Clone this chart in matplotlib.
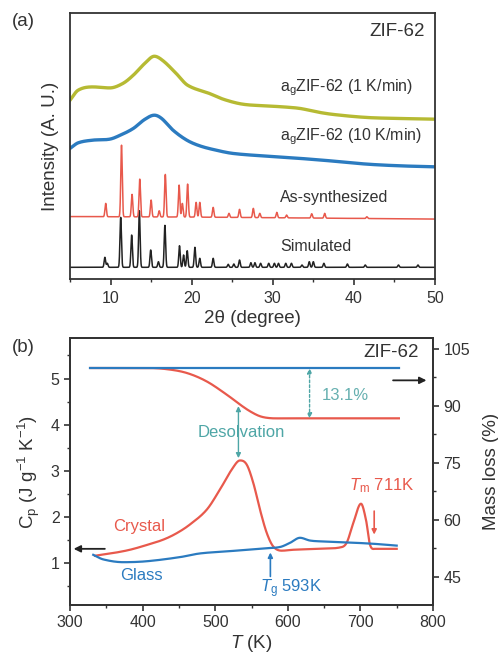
import numpy as np
import matplotlib
matplotlib.use("Agg")
import matplotlib.pyplot as plt
from matplotlib.ticker import MultipleLocator

plt.rcParams['font.family'] = ['Liberation Sans', 'DejaVu Sans']
plt.rcParams['mathtext.fontset'] = 'custom'
plt.rcParams['mathtext.rm'] = 'Liberation Sans'
plt.rcParams['mathtext.it'] = 'Liberation Sans:italic'
plt.rcParams['mathtext.bf'] = 'Liberation Sans:bold'

# ---------------- Panel (a): XRD data ----------------
# simulated pattern (peaks on baseline)
sim_base = 11.7
sim_pos = [9.3, 9.6, 11.25, 12.6, 13.55, 14.95, 15.9, 16.7, 18.5, 19.0, 19.45, 20.4,
           21.0, 22.65, 24.5, 25.2, 25.9, 27.3, 27.8, 28.5, 29.5, 30.2, 30.7, 31.6,
           32.3, 33.6, 34.5, 35.0, 36.3, 39.2, 41.4, 45.5, 47.9]
sim_int = [21.7, 15.7, 61.7, 44.0, 68.3, 29.0, 17.3, 53.7, 33.3, 24.0, 28.3, 31.7,
           20.7, 20.7, 14.7, 15.0, 19.0, 16.3, 16.3, 15.7, 15.7, 15.7, 15.7, 15.7,
           15.7, 14.0, 17.3, 17.3, 15.7, 15.0, 14.0, 14.0, 14.0]

# as-synthesized pattern
as_base_x = [5, 20, 35, 50]
as_base_y = [62.5, 62.0, 61.0, 60.0]
as_pos = [9.4, 11.35, 12.65, 13.6, 15.0, 16.0, 16.75, 18.45, 18.85, 19.5, 20.55,
          21.0, 22.65, 24.6, 25.9, 27.6, 28.4, 30.5, 31.7, 34.8, 36.4, 41.6]
as_int = [75.7, 134.0, 84.7, 100.0, 79.0, 68.3, 104.7, 94.0, 75.7, 95.0, 76.7,
          76.7, 71.7, 65.7, 69.7, 70.7, 65.7, 66.7, 64.0, 65.3, 65.7, 62.3]

# agZIF-62 (10 K/min)
g10_x = [5, 6.0, 7.8, 9.9, 11.2, 12.8, 14.2, 15.4, 16.3, 17.7, 19.4, 21, 23, 25.1,
         29.2, 33.4, 37.5, 41.6, 45.7, 50]
g10_y = [130.7, 136.3, 139.0, 140.0, 144.0, 150.7, 159.7, 164.0, 160.7, 149.0, 139.0,
         133.3, 129.0, 125.7, 123.0, 120.7, 118.0, 115.0, 113.3, 112.3]

# agZIF-62 (1 K/min)
g1_x = [5, 6, 7.8, 9.9, 11.5, 12.8, 14.2, 15.4, 16.5, 18.1, 19.5, 22.2, 24.0, 26.3,
        29.2, 31.3, 33.4, 35.4, 37.5, 41.6, 45.7, 50]
g1_y = [179.0, 189.0, 192.3, 191.3, 195.7, 204.0, 215.7, 223.0, 218.3, 205.7, 194.0,
        185.7, 179.7, 175.0, 173.3, 172.3, 170.7, 167.3, 164.7, 161.7, 160.7, 160.0]

# ---------------- Panel (b): DSC / TGA data ----------------
cry_T = [334.4, 360, 382.6, 405, 428.5, 447, 465.3, 488.3, 506.6, 522.7, 534.2, 543.4,
         552.5, 561.7, 570.9, 580, 591.6, 607.6, 640, 671.9, 681, 690.2, 700.8, 707.7,
         713.2, 720, 750]
cry_Cp = [1.15, 1.21, 1.28, 1.38, 1.50, 1.64, 1.83, 2.15, 2.59, 3.02, 3.22, 3.13,
          2.73, 2.15, 1.65, 1.35, 1.26, 1.28, 1.30, 1.33, 1.43, 1.86, 2.28, 1.93,
          1.39, 1.30, 1.30]

gla_T = [332, 345.9, 373.4, 405.5, 451.5, 479, 520.4, 566.3, 589.3, 603, 616.8,
         630.6, 648.9, 681, 717.8, 750]
gla_Cp = [1.17, 1.07, 1.01, 1.03, 1.12, 1.20, 1.25, 1.31, 1.34, 1.43, 1.54,
          1.48, 1.46, 1.44, 1.41, 1.37]

mass_T = [328, 405.6, 433, 460.7, 488, 515.8, 534, 548, 561.7, 575.5, 594, 753]
mass_cry = [100.0, 100.0, 99.7, 98.7, 96.5, 93.0, 90.4, 88.6, 87.3, 86.8, 86.75, 86.75]
mass_gla_T = [328, 753]
mass_gla = [99.9, 99.9]

RED = '#e8594c'
BLUE = '#2b7bc0'
YEL = '#b6ba33'
TEAL = '#4ea6a6'
DARK = '#333333'


def smooth_curve(x, y, per_seg=40):
    """Cubic Hermite (Catmull-Rom-like) curve through the read points."""
    x = np.asarray(x, float)
    y = np.asarray(y, float)
    n = len(x)
    m = np.zeros(n)
    m[0] = (y[1] - y[0]) / (x[1] - x[0])
    m[-1] = (y[-1] - y[-2]) / (x[-1] - x[-2])
    for i in range(1, n - 1):
        d0 = (y[i] - y[i - 1]) / (x[i] - x[i - 1])
        d1 = (y[i + 1] - y[i]) / (x[i + 1] - x[i])
        if d0 * d1 <= 0:
            m[i] = 0.0
        else:
            m[i] = (y[i + 1] - y[i - 1]) / (x[i + 1] - x[i - 1])
    xs, ys = [], []
    for i in range(n - 1):
        h = x[i + 1] - x[i]
        t = np.linspace(0, 1, per_seg, endpoint=False)
        h00 = 2 * t**3 - 3 * t**2 + 1
        h10 = t**3 - 2 * t**2 + t
        h01 = -2 * t**3 + 3 * t**2
        h11 = t**3 - t**2
        xs.append(x[i] + t * h)
        ys.append(h00 * y[i] + h10 * h * m[i] + h01 * y[i + 1] + h11 * h * m[i + 1])
    xs.append([x[-1]])
    ys.append([y[-1]])
    return np.concatenate(xs), np.concatenate(ys)


def pattern(pos, inten, base_x, base_y, sigma=0.09):
    xd = np.linspace(5, 50, 6000)
    base = np.interp(xd, base_x, base_y)
    y = base.copy()
    for p, h in zip(pos, inten):
        b = np.interp(p, base_x, base_y)
        y += (h - b) * np.exp(-0.5 * ((xd - p) / sigma) ** 2)
    return xd, y


fig = plt.figure(figsize=(4.98, 6.58), dpi=100)

# ---------------- Panel (a) ----------------
axa = fig.add_axes([70 / 498, 1 - 279 / 658, 365 / 498, 266 / 658])
xs, ys = pattern(sim_pos, sim_int, [5, 50], [sim_base, sim_base])
axa.plot(xs, ys, color='#222222', lw=1.1)
xs, ys = pattern(as_pos, as_int, as_base_x, as_base_y)
axa.plot(xs, ys, color=RED, lw=1.1)
xs, ys = smooth_curve(g10_x, g10_y)
axa.plot(xs, ys, color=BLUE, lw=2.4)
xs, ys = smooth_curve(g1_x, g1_y)
axa.plot(xs, ys, color=YEL, lw=2.4)

axa.set_xlim(5, 50)
axa.set_ylim(0, 266.3)
axa.set_yticks([])
axa.xaxis.set_major_locator(MultipleLocator(10))
axa.xaxis.set_minor_locator(MultipleLocator(5))
axa.tick_params(axis='x', which='major', direction='out', length=4.5, width=1.2,
                labelsize=11.5, colors=DARK, pad=4)
axa.tick_params(axis='x', which='minor', direction='out', length=2.5, width=1.0, colors=DARK)
axa.set_xlabel('2θ (degree)', fontsize=13.5, color=DARK, labelpad=3)
axa.set_ylabel('Intensity (A. U.)', fontsize=13.5, color=DARK, labelpad=8)
for s in axa.spines.values():
    s.set_color(DARK)
    s.set_linewidth(1.3)

lab_kw = dict(fontsize=11.5, color=DARK, va='center', ha='left')
axa.text(30.9, 191.7, 'a$_\\mathregular{g}$ZIF-62 (1 K/min)', **lab_kw)
axa.text(30.9, 142.3, 'a$_\\mathregular{g}$ZIF-62 (10 K/min)', **lab_kw)
axa.text(30.9, 81.3, 'As-synthesized', **lab_kw)
axa.text(30.9, 32.3, 'Simulated', **lab_kw)
axa.text(48.8, 247.3, 'ZIF-62', fontsize=13.5, color=DARK, ha='right', va='center')
fig.text(12 / 498, 1 - 22 / 658, '(a)', fontsize=13.5, color=DARK, ha='left', va='center')

# ---------------- Panel (b) ----------------
axb = fig.add_axes([70 / 498, 1 - 605 / 658, 363 / 498, 267 / 658])
ax2 = axb.twinx()

xs, ys = smooth_curve(cry_T, cry_Cp)
axb.plot(xs, ys, color=RED, lw=1.6)
xs, ys = smooth_curve(gla_T, gla_Cp)
axb.plot(xs, ys, color=BLUE, lw=1.6)

xs, ys = smooth_curve(mass_T, mass_cry)
ax2.plot(xs, ys, color=RED, lw=1.6)
ax2.plot(mass_gla_T, mass_gla, color=BLUE, lw=1.6)

axb.set_xlim(300, 800)
axb.set_ylim(0.08, 5.88)
ax2.set_ylim(37.6, 107.9)

axb.xaxis.set_major_locator(MultipleLocator(100))
axb.xaxis.set_minor_locator(MultipleLocator(50))
axb.yaxis.set_major_locator(MultipleLocator(1))
axb.yaxis.set_minor_locator(MultipleLocator(0.5))
ax2.yaxis.set_major_locator(MultipleLocator(15))
ax2.yaxis.set_minor_locator(MultipleLocator(7.5))
for a in (axb, ax2):
    a.tick_params(which='major', direction='out', length=4.5, width=1.2,
                  labelsize=11.5, colors=DARK, pad=3)
    a.tick_params(which='minor', direction='out', length=2.5, width=1.0, colors=DARK)
    for s in a.spines.values():
        s.set_color(DARK)
        s.set_linewidth(1.3)

axb.set_xlabel('$T$ (K)', fontsize=13.5, color=DARK, labelpad=2)
axb.set_ylabel('C$_\\mathregular{p}$ (J g$^\\mathregular{-1}$ K$^\\mathregular{-1}$)',
               fontsize=13.5, color=DARK, labelpad=6)
ax2.set_ylabel('Mass loss (%)', fontsize=13.5, color=DARK, labelpad=9)

# arrows indicating axes
axb.annotate('', xy=(305, 1.30), xytext=(348, 1.30),
             arrowprops=dict(arrowstyle='-|>', color='#222222', lw=1.3,
                             mutation_scale=10, shrinkA=0, shrinkB=0))
axb.annotate('', xy=(791, 4.96), xytext=(745, 4.96),
             arrowprops=dict(arrowstyle='-|>', color='#222222', lw=1.3,
                             mutation_scale=10, shrinkA=0, shrinkB=0))

# Desolvation arrow
axb.annotate('', xy=(532, 4.40), xytext=(532, 3.27),
             arrowprops=dict(arrowstyle='<|-|>', color=TEAL, lw=1.0,
                             mutation_scale=7, shrinkA=0, shrinkB=0))
axb.text(536.5, 3.83, 'Desolvation', fontsize=12, color=TEAL, ha='center', va='center')

# 13.1% mass-loss arrow
ax2.annotate('', xy=(630, 99.9), xytext=(630, 86.75),
             arrowprops=dict(arrowstyle='<|-|>', color=TEAL, lw=1.0, ls=(0, (2, 1.5)),
                             mutation_scale=7, shrinkA=0, shrinkB=0))
axb.text(679, 4.63, '13.1%', fontsize=12, color='#66b0b0', ha='center', va='center')

# Tg and Tm
axb.annotate('', xy=(576, 1.22), xytext=(576, 0.70),
             arrowprops=dict(arrowstyle='-|>', color=BLUE, lw=1.2,
                             mutation_scale=7, shrinkA=0, shrinkB=0))
axb.text(562, 0.43, '$T_\\mathregular{g}$ 593K', fontsize=12, color=BLUE, ha='left', va='center')
axb.annotate('', xy=(719, 1.61), xytext=(719, 2.12),
             arrowprops=dict(arrowstyle='-|>', color=RED, lw=1.2,
                             mutation_scale=7, shrinkA=0, shrinkB=0))
axb.text(684, 2.68, '$T_\\mathregular{m}$ 711K', fontsize=12, color=RED, ha='left', va='center')

axb.text(395, 1.79, 'Crystal', fontsize=12, color=RED, ha='center', va='center')
axb.text(399, 0.72, 'Glass', fontsize=12, color=BLUE, ha='center', va='center')
axb.text(780, 5.56, 'ZIF-62', fontsize=13.5, color=DARK, ha='right', va='center')
fig.text(12 / 498, 1 - 348 / 658, '(b)', fontsize=13.5, color=DARK, ha='left', va='center')

fig.savefig('out.png', dpi=100)
